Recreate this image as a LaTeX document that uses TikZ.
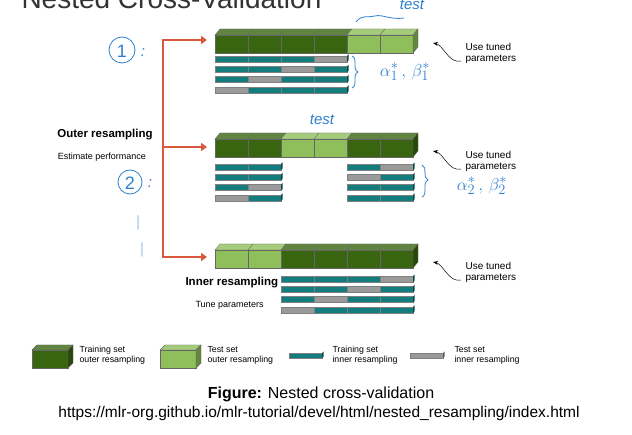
\documentclass[tikz,border=0pt]{standalone}
\usepackage{fontspec}
\setmainfont{Liberation Sans}
\usetikzlibrary{arrows.meta}
\definecolor{dg}{HTML}{3A6510}
\definecolor{lg}{HTML}{8FBF5A}
\definecolor{tl}{HTML}{137C7C}
\definecolor{gr}{HTML}{9A9A9A}
\definecolor{rd}{HTML}{D9573B}
\definecolor{hb}{HTML}{2F7FD0}
\newcommand\bcell[3]{% x y colour
  \fill[#3,draw=black!60,line width=0.3pt] (#1,#2) rectangle ++(33,18);
  \fill[#3!80!white,draw=black!60,line width=0.3pt] (#1,#2) -- ++(5,-6) -- ++(33,0) -- ++(-5,6) -- cycle;}
\newcommand\bend[3]{\fill[#3!70!black,draw=black!60,line width=0.3pt] (#1,#2) ++(33,0) -- ++(5,-6) -- ++(0,18) -- ++(-5,6) -- cycle;}
\newcommand\icell[3]{\fill[#3,draw=black!50,line width=0.2pt] (#1,#2) rectangle ++(33,6);}
\newcommand\iend[3]{\fill[#3!60!black] (#1,#2) ++(33,0) -- ++(1.5,-1.5) -- ++(0,6) -- ++(-1.5,1.5) -- cycle;}
\tikzset{lbl/.style={font=\fontsize{10}{11}\selectfont,align=left,anchor=west},
 leg/.style={font=\fontsize{8.8}{9.8}\selectfont,align=left,anchor=west},
 hw/.style={text=hb,font=\itshape\fontsize{15}{15}\selectfont},
 rarrow/.style={rd,line width=2.2pt,-{Triangle[length=6pt,width=8pt]}},
 tun/.style={-{Stealth[length=5pt]},line width=0.5pt}}
\begin{document}
\begin{tikzpicture}[x=1pt,y=-1pt]
\clip (0,0) rectangle (632,435);
\useasboundingbox (0,0) rectangle (632,435);
\fill[white] (0,0) rectangle (632,435);
\node[anchor=west,font=\fontsize{28}{28}\selectfont,text=black!80] (title) at (18,-2) {Nested Cross-Validation};
% outer bars
\foreach \c [count=\i from 0] in {dg,dg,dg,dg,lg,lg} {\bcell{215+33*\i}{35}{\c}}
\bend{380}{35}{lg}
\foreach \c [count=\i from 0] in {dg,dg,lg,lg,dg,dg} {\bcell{215+33*\i}{139}{\c}}
\bend{380}{139}{dg}
\foreach \c [count=\i from 0] in {lg,lg,dg,dg,dg,dg} {\bcell{215+33*\i}{250}{\c}}
\bend{380}{250}{dg}
% inner bars
\foreach \r/\row in {0/{tl,tl,tl,gr},1/{tl,tl,gr,tl},2/{tl,gr,tl,tl},3/{gr,tl,tl,tl}} {
  \foreach \c [count=\i from 0] in \row {\icell{215+33*\i}{56+10.3*\r}{\c}}
  \iend{314}{56+10.3*\r}{tl}
  \foreach \c [count=\i from 0] in \row {\icell{281+33*\i}{276+10.3*\r}{\c}}
  \iend{380}{276+10.3*\r}{tl}}
\foreach \r/\row/\rowb in {0/{tl,tl}/{tl,gr},1/{tl,tl}/{gr,tl},2/{tl,gr}/{tl,tl},3/{gr,tl}/{tl,tl}} {
  \foreach \c [count=\i from 0] in \row {\icell{215+33*\i}{164+10.3*\r}{\c}}
  \iend{248}{164+10.3*\r}{tl}
  \foreach \c [count=\i from 0] in \rowb {\icell{347+33*\i}{164+10.3*\r}{\c}}
  \iend{380}{164+10.3*\r}{tl}}
% red arrows
\coordinate (rt) at (163,40); \coordinate (rm) at (163,147); \coordinate (rb) at (163,257);
\draw[rd,line width=2.2pt] (163,38.9) -- (163,258.1);
\coordinate (a1) at (207,40); \coordinate (a2) at (207,147); \coordinate (a3) at (207,257);
\draw[rarrow] (rt) -- (a1); \draw[rarrow] (rm) -- (a2); \draw[rarrow] (rb) -- (a3);
% labels
\node[font=\bfseries\fontsize{11.5}{13}\selectfont] (outer) at (105,135) {Outer resampling};
\node[font=\fontsize{9}{10}\selectfont] (est) at (102,157) {Estimate performance};
\node[font=\bfseries\fontsize{11.5}{13}\selectfont,anchor=west] (inner) at (182,283) {Inner resampling};
\node[font=\fontsize{9}{10}\selectfont,anchor=west] (tune) at (192,305) {Tune parameters};
\foreach \n/\y/\ty in {u1/53/43,u2/161/151,u3/272/262} {
  \node[lbl] (\n) at (462,\y) {Use tuned\\parameters};
  \coordinate (e\n) at (433,\ty);
  \draw[tun] (\n.west) ++(-1,8) .. controls +(-12,3) and +(10,2) .. (e\n);
}
% legend
\fill[dg,draw=black!60] (32,350) rectangle ++(36,18); \fill[dg!80!white,draw=black!60] (32,350)--++(5,-5)--++(36,0)--++(-5,5)--cycle;
\fill[dg!70!black,draw=black!60] (68,350)--++(5,-5)--++(0,18)--++(-5,5)--cycle;
\node[leg] (l1) at (76,355) {Training set\\outer resampling};
\fill[lg,draw=black!60] (160,350) rectangle ++(36,18); \fill[lg!80!white,draw=black!60] (160,350)--++(5,-5)--++(36,0)--++(-5,5)--cycle;
\fill[lg!70!black,draw=black!60] (196,350)--++(5,-5)--++(0,18)--++(-5,5)--cycle;
\node[leg] (l2) at (204,355) {Test set\\outer resampling};
\fill[tl,draw=black!50] (289,353) rectangle ++(33,5); \fill[tl!60!black] (322,353)--++(1.5,-1.5)--++(0,5)--++(-1.5,1.5)--cycle;
\node[leg] (l3) at (329,355) {Training set\\inner resampling};
\fill[gr,draw=black!50] (410,353) rectangle ++(33,5); \fill[gr!60!black] (443,353)--++(1.5,-1.5)--++(0,5)--++(-1.5,1.5)--cycle;
\node[leg] (l4) at (451,355) {Test set\\inner resampling};
% caption
\node[font=\fontsize{16}{18}\selectfont] (cap) at (321,394) {\textbf{Figure:} Nested cross-validation};
\node[font=\fontsize{15.5}{18}\selectfont] (url) at (319,413) {https://mlr-org.github.io/mlr-tutorial/devel/html/nested\_resampling/index.html};
% handwriting
\draw[hb,line width=0.8pt] (356,22) .. controls (362,14) and (368,18) .. (375,16) .. controls (382,14) and (390,20) .. (404,18);
\node[hw] (t1) at (412,5) {test};
\node[hw] (t2) at (322,120) {test};
\draw[hb,line width=0.8pt] (122,50) ellipse (13 and 13);
\node[hw,font=\fontsize{18}{18}\selectfont] (c1) at (122,51) {1};
\node[hw] at (143,53) {:};
\draw[hb,line width=0.8pt] (130,182) ellipse (12 and 12);
\node[hw,font=\fontsize{18}{18}\selectfont] (c2) at (130,183) {2};
\node[hw] at (150,184) {:};
\node[hw] at (138,223) {$|$}; \node[hw] at (142,250) {$|$};
\draw[hb,line width=0.8pt] (352,56) .. controls (358,58) and (352,70) .. (358,72) .. controls (352,74) and (358,86) .. (352,88);
\draw[hb,line width=0.8pt] (422,165) .. controls (428,167) and (422,178) .. (428,180) .. controls (422,182) and (428,195) .. (422,197);
\node[hw,font=\fontsize{19}{19}\selectfont] (ab1) at (405,72) {$\alpha^*_1\,,\,\beta^*_1$};
\node[hw,font=\fontsize{19}{19}\selectfont] (ab2) at (482,186) {$\alpha^*_2\,,\,\beta^*_2$};
\end{tikzpicture}
\end{document}
